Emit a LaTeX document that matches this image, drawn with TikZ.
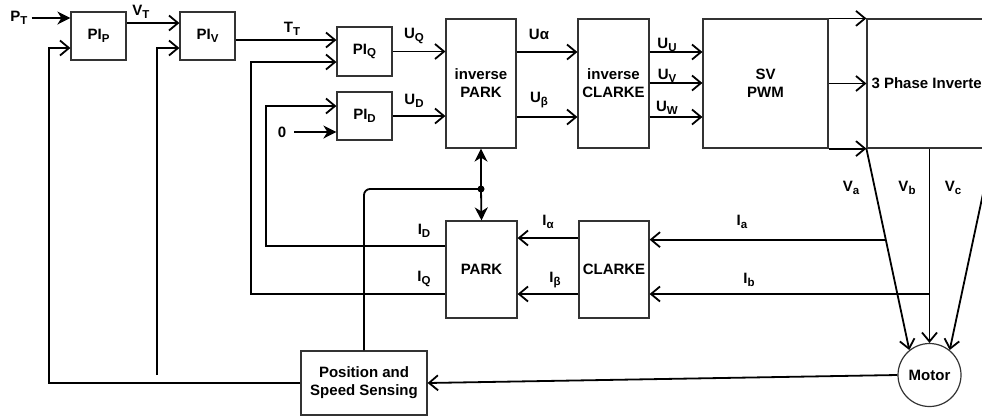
\documentclass[tikz,border=0pt]{standalone}
\usepackage{fontspec}
\setmainfont{Liberation Sans}
\usetikzlibrary{arrows.meta,calc}
\newcommand{\lsub}[1]{\raisebox{-0.3ex}{\fontsize{11.5}{11.5}\selectfont #1}}

\begin{document}
\begin{tikzpicture}[x=1pt, y=-1pt,
  blk/.style={draw=black!80, line width=1.2pt, fill=white, inner sep=1pt, align=center, font=\bfseries\fontsize{15}{18}\selectfont},
  lbl/.style={inner sep=0pt, font=\bfseries\fontsize{15}{18}\selectfont},
  wire/.style={line width=1.8pt},
  arr/.style={wire, -{Straight Barb[length=9pt,width=15pt]}},
  farr/.style={wire, -{Stealth[length=13pt,width=13pt,inset=4pt]}}]
\useasboundingbox (0,0) rectangle (982,416);
\clip (0,0) rectangle (982,416);
% blocks
\node[blk, minimum width=55, minimum height=48] (PIp) at (98.5,36) {PI\lsub{P}};
\node[blk, minimum width=55, minimum height=48] (PIv) at (207.5,36) {PI\lsub{V}};
\node[blk, minimum width=55, minimum height=49] (PIq) at (364.5,51.5) {PI\lsub{Q}};
\node[blk, minimum width=55, minimum height=48] (PId) at (364.5,116) {PI\lsub{D}};
\node[blk, minimum width=70, minimum height=129] (iPark) at (481,83.5) {inverse\\PARK};
\node[blk, minimum width=71, minimum height=129] (iClarke) at (613.5,83.5) {inverse\\CLARKE};
\node[blk, minimum width=125, minimum height=129] (svpwm) at (765.5,83.5) {SV\\PWM};
\node[blk, minimum width=125, minimum height=129] (inv) at (929.5,83.5) {3 Phase Inverter};
\node[blk, minimum width=71, minimum height=97] (park) at (481.5,269.5) {PARK};
\node[blk, minimum width=70, minimum height=97] (clarke) at (614,269.5) {CLARKE};
\node[blk, minimum width=126, minimum height=64] (pos) at (364,383) {Position and\\Speed Sensing};
\node[blk, circle, minimum size=63] (motor) at (929.5,375) {Motor};
% labels
\node[lbl] (lPT) at (19,18) {P\lsub{T}};
\node[lbl] (lVT) at (141,12) {V\lsub{T}};
\node[lbl] (lTT) at (292,29) {T\lsub{T}};
\node[lbl] (l0) at (282,132) {0};
\node[lbl] (lUQ) at (414,36) {U\lsub{Q}};
\node[lbl] (lUD) at (414,101) {U\lsub{D}};
\node[lbl] (lUa) at (539,34) {Uα};
\node[lbl] (lUb) at (539,100) {U\lsub{β}};
\node[lbl] (lUU) at (667,45) {U\lsub{U}};
\node[lbl] (lUV) at (667,76) {U\lsub{V}};
\node[lbl] (lUW) at (667,108) {U\lsub{W}};
\node[lbl] (lVa) at (851,188) {V\lsub{a}};
\node[lbl] (lVb) at (907,188) {V\lsub{b}};
\node[lbl] (lVc) at (953,188) {V\lsub{c}};
\node[lbl] (lIa) at (742,222) {I\lsub{a}};
\node[lbl] (lIb) at (749,280) {I\lsub{b}};
\node[lbl] (lIal) at (548,222) {I\lsub{α}};
\node[lbl] (lIbe) at (555,280) {I\lsub{β}};
\node[lbl] (lID) at (424,231) {I\lsub{D}};
\node[lbl] (lIQ) at (424,279) {I\lsub{Q}};
% forward path
\draw[farr] ([xshift=4]lPT.east) -- (PIp.west |- lPT);
\draw[arr] (PIp.east |- 0,23) -- (PIv.west |- 0,23);
\draw[arr] (PIv.east |- 0,40) -- (PIq.west |- 0,40);
\draw[farr] ([xshift=8]l0.east) -- (PId.west |- l0);
\draw[arr] (PIq.east) -- (iPark.west |- PIq);
\draw[arr] (PId.east) -- (iPark.west |- PId);
\draw[arr] (iPark.east |- 0,52) -- (iClarke.west |- 0,52);
\draw[arr] (iPark.east |- 0,117) -- (iClarke.west |- 0,117);
\foreach \y in {52,83,117}
  \draw[arr] (iClarke.east |- 0,\y) -- (svpwm.west |- 0,\y);
\draw[arr] (svpwm.north east) -- (inv.north west);
\draw[arr] (svpwm.east) -- (inv.west);
\draw[arr] (svpwm.south east) -- (inv.south west);
% phases to motor
\draw[arr] (inv.south west) -- (motor.129);
\draw[arr] (inv.south) -- (motor.north);
\draw[arr] (inv.south east) -- (motor.51);
% current feedback
\coordinate (ia) at ($(inv.south west)!0.452!(motor.129)$);
\draw[arr] (ia) -- (clarke.east |- ia);
\draw[arr] (motor.north |- 0,294) -- (clarke.east |- 0,294);
\draw[arr] (clarke.west |- 0,238) -- (park.east |- 0,238);
\draw[arr] (clarke.west |- 0,294) -- (park.east |- 0,294);
\draw[arr] (park.west |- 0,246) -| (266,106) -- (PId.west |- 0,106);
\draw[arr] (park.west |- 0,294) -| (251,62) -- (PIq.west |- 0,62);
% position and speed
\draw[arr] (motor.west) -- (pos.east);
\coordinate (jn) at (iPark.south |- 0,189);
\draw[wire, rounded corners=6] (pos.north) |- (jn);
\draw[farr] (jn) -- (iPark.south);
\draw[farr] (jn) -- (park.north);
\fill (jn) circle (3.5);
\coordinate (tv) at (157,375);
\draw[arr] (pos.west) -| (49,48) -- (PIp.west |- 0,48);
\draw[arr] (tv) -- (157,48) -- (PIv.west |- 0,48);
\end{tikzpicture}
\end{document}
